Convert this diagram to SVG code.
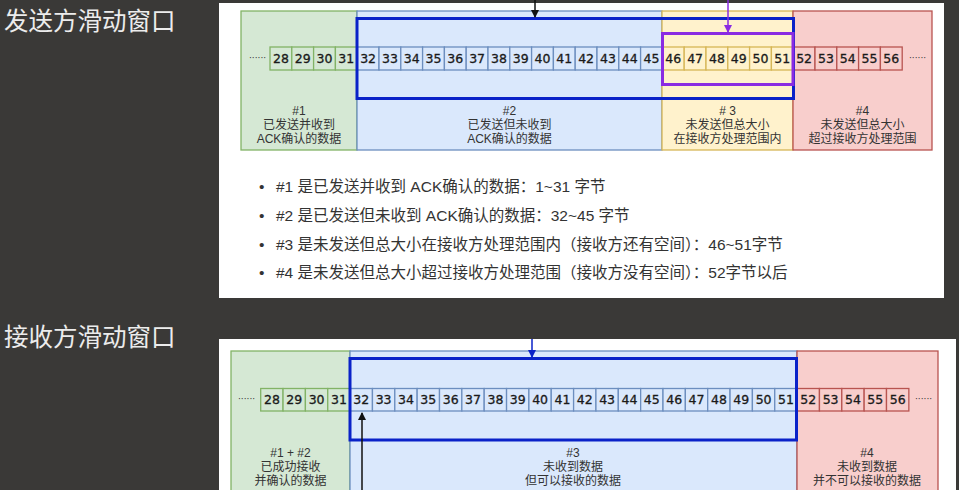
<svg xmlns="http://www.w3.org/2000/svg" width="959" height="490" viewBox="0 0 959 490">
<defs>
<style>
.g{fill:#d5e8d4;stroke:#82b366;stroke-width:1.3}
.b{fill:#dae8fc;stroke:#6c8ebf;stroke-width:1.3}
.y{fill:#fff2cc;stroke:#d6b656;stroke-width:1.3}
.r{fill:#f8cecc;stroke:#b85450;stroke-width:1.3}
.num{font-family:"DejaVu Sans",sans-serif;font-size:12.5px;fill:#1a1a1a;text-anchor:middle;stroke:#1a1a1a;stroke-width:0.3}
.lbl{font-family:"Liberation Sans","Noto Sans CJK SC",sans-serif;font-size:12px;fill:#333;text-anchor:middle}
.dots{font-family:"DejaVu Sans",sans-serif;font-size:9px;fill:#333}
.list{font-family:"Liberation Sans","Noto Sans CJK SC",sans-serif;font-size:15.5px;fill:#333}
.title{font-family:"Noto Sans CJK SC",sans-serif;font-size:24.5px;fill:#ececec}
.win{fill:none;stroke:#0a22c8;stroke-width:3}
.pwin{fill:none;stroke:#8a2be2;stroke-width:3}
</style>
<marker id="ahK" markerWidth="8" markerHeight="8" refX="7" refY="4" orient="auto" markerUnits="userSpaceOnUse"><path d="M0,0 L8,4 L0,8 Z" fill="#111"/></marker>
<marker id="ahB" markerWidth="8" markerHeight="8" refX="7" refY="4" orient="auto" markerUnits="userSpaceOnUse"><path d="M0,0 L8,4 L0,8 Z" fill="#0a22c8"/></marker>
<marker id="ahP" markerWidth="8" markerHeight="8" refX="7" refY="4" orient="auto" markerUnits="userSpaceOnUse"><path d="M0,0 L8,4 L0,8 Z" fill="#8a2be2"/></marker>
</defs>
<rect width="959" height="490" fill="#3a3937"/>
<text class="title" x="4" y="30">发送方滑动窗口</text>
<text class="title" x="4" y="346">接收方滑动窗口</text>

<!-- ===== Sender panel ===== -->
<rect x="219" y="3" width="725" height="295" fill="#ffffff"/>
<g id="s-region1"><rect class="g" x="241" y="11" width="116" height="139"/>
<text class="lbl" x="299" y="115">#1</text><text class="lbl" x="299" y="129">已发送并收到</text><text class="lbl" x="299" y="143">ACK确认的数据</text></g>
<g id="s-region2"><rect class="b" x="357" y="11" width="305" height="139"/>
<text class="lbl" x="509.5" y="115">#2</text><text class="lbl" x="509.5" y="129">已发送但未收到</text><text class="lbl" x="509.5" y="143">ACK确认的数据</text></g>
<g id="s-region3"><rect class="y" x="662" y="11" width="131" height="139"/>
<text class="lbl" x="727.5" y="115"># 3</text><text class="lbl" x="727.5" y="129">未发送但总大小</text><text class="lbl" x="727.5" y="143">在接收方处理范围内</text></g>
<g id="s-region4"><rect class="r" x="793" y="11" width="139" height="139"/>
<text class="lbl" x="862.5" y="115">#4</text><text class="lbl" x="862.5" y="129">未发送但总大小</text><text class="lbl" x="862.5" y="143">超过接收方处理范围</text></g>

<g id="s-cells">
<text class="dots" x="249" y="61">······</text>
<g id="s28"><rect class="g" x="270" y="47" width="21.8" height="23"/><text class="num" x="280.9" y="63">28</text></g>
<g id="s29"><rect class="g" x="291.8" y="47" width="21.8" height="23"/><text class="num" x="302.7" y="63">29</text></g>
<g id="s30"><rect class="g" x="313.6" y="47" width="21.8" height="23"/><text class="num" x="324.5" y="63">30</text></g>
<g id="s31"><rect class="g" x="335.4" y="47" width="21.8" height="23"/><text class="num" x="346.3" y="63">31</text></g>
<g id="s32"><rect class="b" x="357.2" y="47" width="21.8" height="23"/><text class="num" x="368.1" y="63">32</text></g>
<g id="s33"><rect class="b" x="379" y="47" width="21.8" height="23"/><text class="num" x="389.9" y="63">33</text></g>
<g id="s34"><rect class="b" x="400.8" y="47" width="21.8" height="23"/><text class="num" x="411.7" y="63">34</text></g>
<g id="s35"><rect class="b" x="422.6" y="47" width="21.8" height="23"/><text class="num" x="433.5" y="63">35</text></g>
<g id="s36"><rect class="b" x="444.4" y="47" width="21.8" height="23"/><text class="num" x="455.3" y="63">36</text></g>
<g id="s37"><rect class="b" x="466.2" y="47" width="21.8" height="23"/><text class="num" x="477.1" y="63">37</text></g>
<g id="s38"><rect class="b" x="488" y="47" width="21.8" height="23"/><text class="num" x="498.9" y="63">38</text></g>
<g id="s39"><rect class="b" x="509.8" y="47" width="21.8" height="23"/><text class="num" x="520.7" y="63">39</text></g>
<g id="s40"><rect class="b" x="531.6" y="47" width="21.8" height="23"/><text class="num" x="542.5" y="63">40</text></g>
<g id="s41"><rect class="b" x="553.4" y="47" width="21.8" height="23"/><text class="num" x="564.3" y="63">41</text></g>
<g id="s42"><rect class="b" x="575.2" y="47" width="21.8" height="23"/><text class="num" x="586.1" y="63">42</text></g>
<g id="s43"><rect class="b" x="597" y="47" width="21.8" height="23"/><text class="num" x="607.9" y="63">43</text></g>
<g id="s44"><rect class="b" x="618.8" y="47" width="21.8" height="23"/><text class="num" x="629.7" y="63">44</text></g>
<g id="s45"><rect class="b" x="640.6" y="47" width="21.8" height="23"/><text class="num" x="651.5" y="63">45</text></g>
<g id="s46"><rect class="y" x="662.4" y="47" width="21.8" height="23"/><text class="num" x="673.3" y="63">46</text></g>
<g id="s47"><rect class="y" x="684.2" y="47" width="21.8" height="23"/><text class="num" x="695.1" y="63">47</text></g>
<g id="s48"><rect class="y" x="706" y="47" width="21.8" height="23"/><text class="num" x="716.9" y="63">48</text></g>
<g id="s49"><rect class="y" x="727.8" y="47" width="21.8" height="23"/><text class="num" x="738.7" y="63">49</text></g>
<g id="s50"><rect class="y" x="749.6" y="47" width="21.8" height="23"/><text class="num" x="760.5" y="63">50</text></g>
<g id="s51"><rect class="y" x="771.4" y="47" width="21.8" height="23"/><text class="num" x="782.3" y="63">51</text></g>
<g id="s52"><rect class="r" x="793.2" y="47" width="21.8" height="23"/><text class="num" x="804.1" y="63">52</text></g>
<g id="s53"><rect class="r" x="815" y="47" width="21.8" height="23"/><text class="num" x="825.9" y="63">53</text></g>
<g id="s54"><rect class="r" x="836.8" y="47" width="21.8" height="23"/><text class="num" x="847.7" y="63">54</text></g>
<g id="s55"><rect class="r" x="858.6" y="47" width="21.8" height="23"/><text class="num" x="869.5" y="63">55</text></g>
<g id="s56"><rect class="r" x="880.4" y="47" width="21.8" height="23"/><text class="num" x="891.3" y="63">56</text></g>
<text class="dots" x="909" y="61">······</text>
</g>
<g id="s-send-window"><rect class="win" x="357" y="18.5" width="436.5" height="80"/></g>
<g id="s-usable-window"><rect class="pwin" x="662.5" y="33.5" width="130.5" height="51"/></g>

<g id="s-list">
<text class="list" x="259" y="192">•</text><text class="list" x="276" y="192">#1 是已发送并收到 ACK确认的数据：1~31 字节</text>
<text class="list" x="259" y="221">•</text><text class="list" x="276" y="221">#2 是已发送但未收到 ACK确认的数据：32~45 字节</text>
<text class="list" x="259" y="250">•</text><text class="list" x="276" y="250">#3 是未发送但总大小在接收方处理范围内（接收方还有空间）：46~51字节</text>
<text class="list" x="259" y="278">•</text><text class="list" x="276" y="278">#4 是未发送但总大小超过接收方处理范围（接收方没有空间）：52字节以后</text>
</g>

<!-- ===== Receiver panel ===== -->
<rect x="219" y="339" width="737" height="151" fill="#ffffff"/>
<g id="r-region12"><rect class="g" x="231" y="351" width="119" height="150"/>
<text class="lbl" x="290.5" y="457">#1 + #2</text><text class="lbl" x="290.5" y="471">已成功接收</text><text class="lbl" x="290.5" y="485">并确认的数据</text></g>
<g id="r-region3"><rect class="b" x="350" y="351" width="447" height="150"/>
<text class="lbl" x="573" y="457">#3</text><text class="lbl" x="573" y="471">未收到数据</text><text class="lbl" x="573" y="485">但可以接收的数据</text></g>
<g id="r-region4"><rect class="r" x="797" y="351" width="141" height="150"/>
<text class="lbl" x="867" y="457">#4</text><text class="lbl" x="867" y="471">未收到数据</text><text class="lbl" x="867" y="485">并不可以接收的数据</text></g>

<g id="r-cells">
<text class="dots" x="238" y="402">······</text>
<g id="r28"><rect class="g" x="260.7" y="388.5" width="22.35" height="22.5"/><text class="num" x="271.9" y="404">28</text></g>
<g id="r29"><rect class="g" x="283.05" y="388.5" width="22.35" height="22.5"/><text class="num" x="294.2" y="404">29</text></g>
<g id="r30"><rect class="g" x="305.4" y="388.5" width="22.35" height="22.5"/><text class="num" x="316.6" y="404">30</text></g>
<g id="r31"><rect class="g" x="327.75" y="388.5" width="22.35" height="22.5"/><text class="num" x="338.9" y="404">31</text></g>
<g id="r32"><rect class="b" x="350.1" y="388.5" width="22.35" height="22.5"/><text class="num" x="361.3" y="404">32</text></g>
<g id="r33"><rect class="b" x="372.45" y="388.5" width="22.35" height="22.5"/><text class="num" x="383.6" y="404">33</text></g>
<g id="r34"><rect class="b" x="394.8" y="388.5" width="22.35" height="22.5"/><text class="num" x="406" y="404">34</text></g>
<g id="r35"><rect class="b" x="417.15" y="388.5" width="22.35" height="22.5"/><text class="num" x="428.3" y="404">35</text></g>
<g id="r36"><rect class="b" x="439.5" y="388.5" width="22.35" height="22.5"/><text class="num" x="450.7" y="404">36</text></g>
<g id="r37"><rect class="b" x="461.85" y="388.5" width="22.35" height="22.5"/><text class="num" x="473" y="404">37</text></g>
<g id="r38"><rect class="b" x="484.2" y="388.5" width="22.35" height="22.5"/><text class="num" x="495.4" y="404">38</text></g>
<g id="r39"><rect class="b" x="506.55" y="388.5" width="22.35" height="22.5"/><text class="num" x="517.7" y="404">39</text></g>
<g id="r40"><rect class="b" x="528.9" y="388.5" width="22.35" height="22.5"/><text class="num" x="540.1" y="404">40</text></g>
<g id="r41"><rect class="b" x="551.25" y="388.5" width="22.35" height="22.5"/><text class="num" x="562.4" y="404">41</text></g>
<g id="r42"><rect class="b" x="573.6" y="388.5" width="22.35" height="22.5"/><text class="num" x="584.8" y="404">42</text></g>
<g id="r43"><rect class="b" x="595.95" y="388.5" width="22.35" height="22.5"/><text class="num" x="607.1" y="404">43</text></g>
<g id="r44"><rect class="b" x="618.3" y="388.5" width="22.35" height="22.5"/><text class="num" x="629.5" y="404">44</text></g>
<g id="r45"><rect class="b" x="640.65" y="388.5" width="22.35" height="22.5"/><text class="num" x="651.8" y="404">45</text></g>
<g id="r46"><rect class="b" x="663" y="388.5" width="22.35" height="22.5"/><text class="num" x="674.2" y="404">46</text></g>
<g id="r47"><rect class="b" x="685.35" y="388.5" width="22.35" height="22.5"/><text class="num" x="696.5" y="404">47</text></g>
<g id="r48"><rect class="b" x="707.7" y="388.5" width="22.35" height="22.5"/><text class="num" x="718.9" y="404">48</text></g>
<g id="r49"><rect class="b" x="730.05" y="388.5" width="22.35" height="22.5"/><text class="num" x="741.2" y="404">49</text></g>
<g id="r50"><rect class="b" x="752.4" y="388.5" width="22.35" height="22.5"/><text class="num" x="763.6" y="404">50</text></g>
<g id="r51"><rect class="b" x="774.75" y="388.5" width="22.35" height="22.5"/><text class="num" x="785.9" y="404">51</text></g>
<g id="r52"><rect class="r" x="797.1" y="388.5" width="22.35" height="22.5"/><text class="num" x="808.3" y="404">52</text></g>
<g id="r53"><rect class="r" x="819.45" y="388.5" width="22.35" height="22.5"/><text class="num" x="830.6" y="404">53</text></g>
<g id="r54"><rect class="r" x="841.8" y="388.5" width="22.35" height="22.5"/><text class="num" x="853" y="404">54</text></g>
<g id="r55"><rect class="r" x="864.15" y="388.5" width="22.35" height="22.5"/><text class="num" x="875.3" y="404">55</text></g>
<g id="r56"><rect class="r" x="886.5" y="388.5" width="22.35" height="22.5"/><text class="num" x="897.7" y="404">56</text></g>
<text class="dots" x="915" y="402">······</text>
</g>
<g id="r-recv-window"><rect class="win" x="350" y="358.5" width="446.5" height="81.5"/></g>

<g id="connectors">
<line x1="535" y1="0" x2="535" y2="17" stroke="#111" stroke-width="1.5" marker-end="url(#ahK)"/>
<line x1="728" y1="0" x2="728" y2="32" stroke="#8a2be2" stroke-width="1.5" marker-end="url(#ahP)"/>
<line x1="532" y1="339" x2="532" y2="357" stroke="#0a22c8" stroke-width="1.5" marker-end="url(#ahB)"/>
<line x1="362" y1="490" x2="362" y2="413" stroke="#111" stroke-width="1.5" marker-end="url(#ahK)"/>
</g>
</svg>
